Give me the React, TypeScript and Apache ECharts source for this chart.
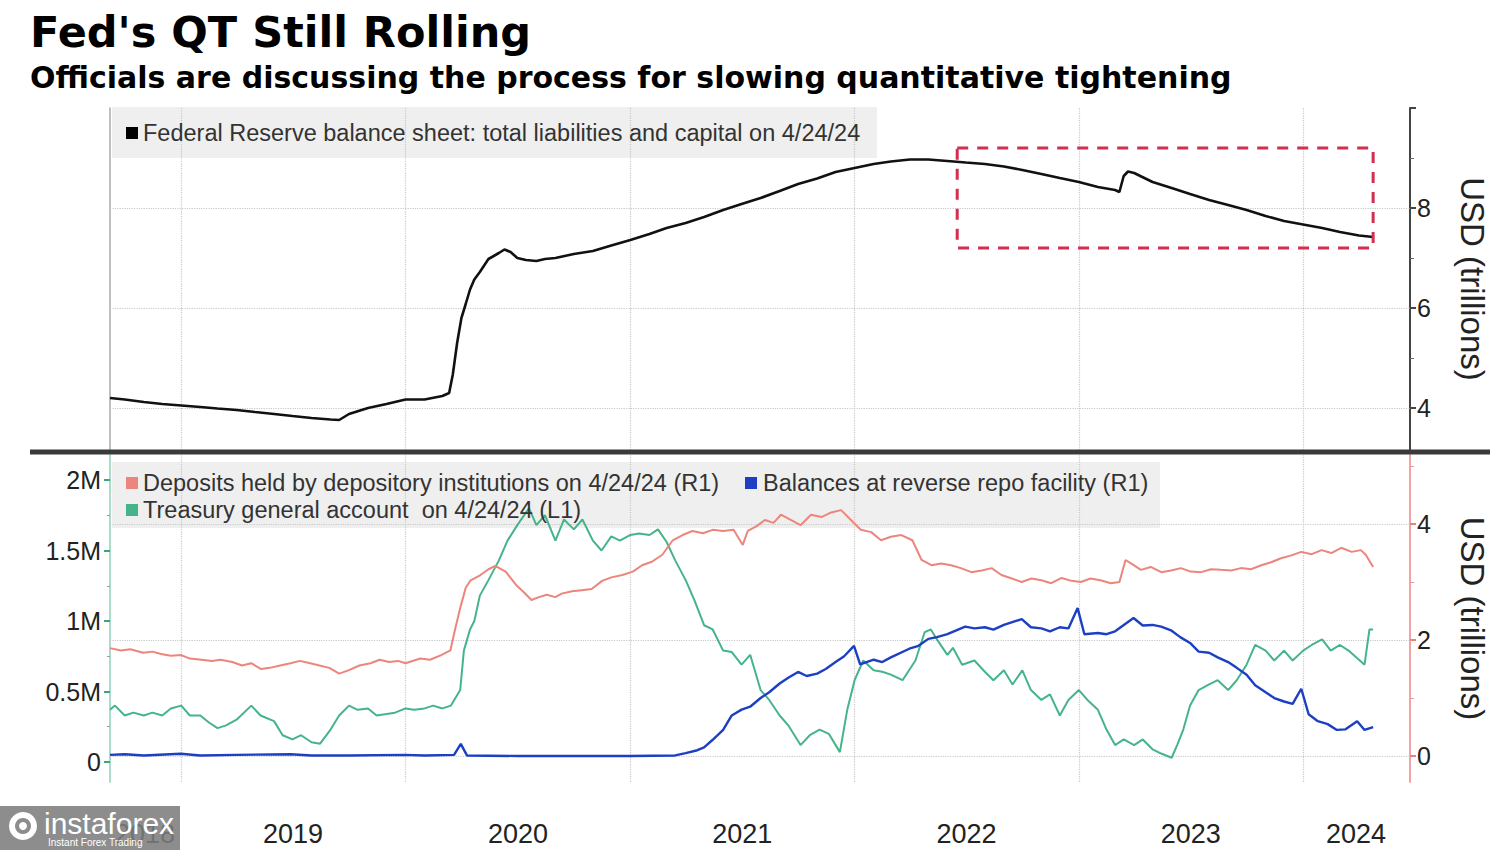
import React, { useEffect, useRef } from 'react';
import * as echarts from 'echarts';

// ---------- Data ----------
// Fed balance sheet: total liabilities and capital, USD trillions
const fedDates = [
  '2018-09-07','2018-10-01','2018-11-01','2018-12-01','2019-01-01','2019-02-01','2019-03-01','2019-04-01',
  '2019-05-01','2019-06-01','2019-07-01','2019-08-01','2019-09-01','2019-09-15','2019-10-01','2019-11-01',
  '2019-12-01','2020-01-01','2020-02-01','2020-03-01','2020-03-12','2020-03-18','2020-03-25','2020-04-01',
  '2020-04-08','2020-04-15','2020-04-22','2020-05-01','2020-05-15','2020-06-01','2020-06-10','2020-06-20',
  '2020-07-01','2020-07-15','2020-08-01','2020-08-15','2020-09-01','2020-10-01','2020-11-01','2020-12-01',
  '2021-01-01','2021-02-01','2021-03-01','2021-04-01','2021-05-01','2021-06-01','2021-07-01','2021-08-01',
  '2021-09-01','2021-10-01','2021-11-01','2021-12-01','2022-01-01','2022-02-01','2022-03-01','2022-04-01',
  '2022-05-01','2022-06-01','2022-07-01','2022-08-01','2022-09-01','2022-10-01','2022-11-01','2022-12-01',
  '2023-01-01','2023-02-01','2023-03-01','2023-03-08','2023-03-15','2023-03-22','2023-04-01','2023-05-01',
  '2023-06-01','2023-07-01','2023-08-01','2023-09-01','2023-10-01','2023-11-01','2023-12-01','2024-01-01',
  '2024-02-01','2024-03-01','2024-04-01','2024-04-24',
];
const fedValues = [
  4.20, 4.17, 4.12, 4.08, 4.05, 4.02, 3.99, 3.96,
  3.92, 3.88, 3.84, 3.80, 3.77, 3.76, 3.88, 4.00,
  4.08, 4.17, 4.17, 4.24, 4.30, 4.67, 5.30, 5.80,
  6.08, 6.37, 6.57, 6.72, 6.98, 7.10, 7.17, 7.12,
  7.00, 6.96, 6.94, 6.98, 7.00, 7.08, 7.14, 7.25,
  7.36, 7.48, 7.60, 7.70, 7.82, 7.96, 8.08, 8.20,
  8.34, 8.48, 8.59, 8.72, 8.80, 8.88, 8.93, 8.97,
  8.97, 8.94, 8.91, 8.88, 8.83, 8.76, 8.68, 8.60,
  8.52, 8.42, 8.36, 8.32, 8.64, 8.73, 8.70, 8.52,
  8.40, 8.28, 8.16, 8.06, 7.96, 7.84, 7.74, 7.67,
  7.60, 7.52, 7.45, 7.42,
];

// Deposits held by depository institutions, USD trillions (right axis)
const depDates = [
  '2018-09-07','2018-09-25','2018-10-10','2018-10-31','2018-11-15','2018-11-29','2018-12-15','2019-01-01',
  '2019-01-15','2019-02-03','2019-02-20','2019-03-06','2019-03-25','2019-04-10','2019-04-25','2019-05-11',
  '2019-05-25','2019-06-11','2019-06-28','2019-07-13','2019-07-30','2019-08-14','2019-08-30','2019-09-15',
  '2019-10-01','2019-10-18','2019-11-05','2019-11-20','2019-12-05','2019-12-20','2020-01-01','2020-01-25',
  '2020-02-10','2020-02-28','2020-03-14','2020-03-22','2020-03-30','2020-04-08','2020-04-16','2020-05-02',
  '2020-05-15','2020-05-26','2020-06-12','2020-06-29','2020-07-12','2020-07-24','2020-08-05','2020-08-18',
  '2020-09-01','2020-09-11','2020-09-28','2020-10-14','2020-10-30','2020-11-16','2020-12-01','2020-12-19',
  '2021-01-05','2021-01-20','2021-02-05','2021-02-22','2021-03-11','2021-03-27','2021-04-12','2021-04-29',
  '2021-05-15','2021-06-01','2021-06-18','2021-07-03','2021-07-11','2021-07-25','2021-08-08','2021-08-22',
  '2021-09-03','2021-09-19','2021-10-05','2021-10-22','2021-11-08','2021-11-24','2021-12-10','2021-12-26',
  '2022-01-11','2022-01-28','2022-02-13','2022-03-01','2022-03-18','2022-04-05','2022-04-20','2022-05-06',
  '2022-05-22','2022-06-07','2022-06-23','2022-07-10','2022-07-27','2022-08-12','2022-08-28','2022-09-14',
  '2022-09-30','2022-10-16','2022-11-01','2022-11-17','2022-12-04','2022-12-20','2023-01-04','2023-01-20',
  '2023-02-05','2023-02-22','2023-03-08','2023-03-18','2023-03-30','2023-04-12','2023-04-28','2023-05-15',
  '2023-05-31','2023-06-16','2023-07-02','2023-07-19','2023-08-04','2023-08-20','2023-09-06','2023-09-22',
  '2023-10-08','2023-10-25','2023-11-10','2023-11-26','2023-12-13','2023-12-29','2024-01-15','2024-01-31',
  '2024-02-16','2024-03-03','2024-03-20','2024-04-04','2024-04-12','2024-04-24',
];
const depValues = [
  1.86, 1.82, 1.84, 1.78, 1.80, 1.76, 1.73, 1.74,
  1.68, 1.66, 1.64, 1.66, 1.62, 1.56, 1.60, 1.50,
  1.52, 1.56, 1.60, 1.64, 1.60, 1.56, 1.52, 1.42,
  1.48, 1.56, 1.60, 1.66, 1.62, 1.64, 1.60, 1.68,
  1.66, 1.74, 1.82, 2.20, 2.55, 2.90, 3.03, 3.12,
  3.22, 3.28, 3.18, 2.95, 2.82, 2.69, 2.74, 2.78,
  2.74, 2.80, 2.84, 2.86, 2.88, 3.02, 3.08, 3.12,
  3.18, 3.29, 3.35, 3.47, 3.72, 3.81, 3.88, 3.84,
  3.90, 3.88, 3.90, 3.64, 3.88, 3.96, 4.07, 4.02,
  4.16, 4.07, 3.98, 4.16, 4.12, 4.20, 4.24, 4.07,
  3.90, 3.86, 3.72, 3.78, 3.81, 3.72, 3.38, 3.29,
  3.32, 3.29, 3.24, 3.17, 3.20, 3.24, 3.12, 3.06,
  3.00, 3.06, 3.03, 2.98, 3.07, 3.02, 3.00, 3.06,
  3.03, 2.98, 3.00, 3.38, 3.30, 3.21, 3.26, 3.17,
  3.20, 3.24, 3.18, 3.17, 3.22, 3.21, 3.20, 3.24,
  3.22, 3.29, 3.34, 3.41, 3.46, 3.52, 3.48, 3.55,
  3.50, 3.59, 3.52, 3.55, 3.47, 3.26,
];

// Balances at reverse repo facility, USD trillions (right axis)
const rrpDates = [
  '2018-09-07','2018-10-01','2018-11-01','2018-12-31','2019-02-01','2019-04-01','2019-06-28','2019-08-01',
  '2019-10-01','2019-12-31','2020-02-01','2020-03-20','2020-03-31','2020-04-10','2020-07-01','2020-10-01',
  '2021-01-01','2021-03-15','2021-04-01','2021-04-20','2021-05-01','2021-05-15','2021-06-01','2021-06-15',
  '2021-07-01','2021-07-15','2021-08-01','2021-08-15','2021-09-01','2021-09-15','2021-10-01','2021-10-15',
  '2021-11-01','2021-11-15','2021-12-01','2021-12-15','2021-12-31','2022-01-10','2022-02-01','2022-02-15',
  '2022-03-01','2022-03-31','2022-04-15','2022-05-01','2022-05-15','2022-06-01','2022-06-30','2022-07-15',
  '2022-08-01','2022-08-15','2022-09-01','2022-09-30','2022-10-15','2022-11-01','2022-11-15','2022-12-01',
  '2022-12-15','2022-12-30','2023-01-10','2023-02-01','2023-02-15','2023-03-01','2023-03-31','2023-04-15',
  '2023-05-01','2023-05-15','2023-06-01','2023-06-15','2023-07-01','2023-07-15','2023-08-01','2023-08-15',
  '2023-09-01','2023-09-15','2023-10-01','2023-10-15','2023-11-01','2023-11-15','2023-12-01','2023-12-15',
  '2023-12-29','2024-01-10','2024-01-25','2024-02-10','2024-02-25','2024-03-10','2024-03-29','2024-04-10',
  '2024-04-24',
];
const rrpValues = [
  0.02, 0.03, 0.01, 0.04, 0.01, 0.02, 0.03, 0.01,
  0.01, 0.02, 0.01, 0.02, 0.21, 0.01, 0.00, 0.00,
  0.00, 0.01, 0.05, 0.10, 0.15, 0.28, 0.45, 0.70,
  0.80, 0.85, 1.00, 1.10, 1.25, 1.35, 1.45, 1.38,
  1.42, 1.50, 1.62, 1.72, 1.90, 1.58, 1.66, 1.62,
  1.70, 1.85, 1.90, 2.02, 2.05, 2.10, 2.23, 2.20,
  2.22, 2.18, 2.26, 2.36, 2.22, 2.20, 2.15, 2.22,
  2.20, 2.55, 2.10, 2.12, 2.10, 2.15, 2.38, 2.25,
  2.26, 2.23, 2.16, 2.05, 1.95, 1.80, 1.78, 1.70,
  1.62, 1.52, 1.40, 1.22, 1.10, 1.00, 0.94, 0.90,
  1.16, 0.72, 0.60, 0.55, 0.45, 0.46, 0.60, 0.45,
  0.50,
];

// Treasury general account, USD millions (left axis)
const tgaDates = [
  '2018-09-07','2018-09-15','2018-10-01','2018-10-15','2018-11-01','2018-11-15','2018-12-01','2018-12-15',
  '2019-01-01','2019-01-15','2019-02-01','2019-02-15','2019-03-01','2019-03-15','2019-04-01','2019-04-25',
  '2019-05-10','2019-06-01','2019-06-15','2019-07-01','2019-07-15','2019-08-01','2019-08-15','2019-09-01',
  '2019-09-15','2019-10-01','2019-10-15','2019-11-01','2019-11-15','2019-12-01','2019-12-15','2020-01-01',
  '2020-01-15','2020-02-01','2020-02-15','2020-03-01','2020-03-15','2020-03-30','2020-04-05','2020-04-15',
  '2020-04-22','2020-05-01','2020-05-15','2020-06-01','2020-06-15','2020-07-01','2020-07-20','2020-08-01',
  '2020-08-15','2020-09-01','2020-09-15','2020-10-01','2020-10-15','2020-11-01','2020-11-15','2020-12-01',
  '2020-12-15','2021-01-01','2021-01-15','2021-02-01','2021-02-15','2021-03-01','2021-03-15','2021-04-01',
  '2021-04-15','2021-05-01','2021-05-15','2021-06-01','2021-06-15','2021-07-01','2021-07-15','2021-08-01',
  '2021-08-15','2021-09-01','2021-09-15','2021-10-05','2021-10-20','2021-11-05','2021-11-20','2021-12-08',
  '2021-12-20','2022-01-01','2022-01-15','2022-02-01','2022-02-15','2022-03-01','2022-03-20','2022-04-10',
  '2022-04-25','2022-05-05','2022-05-15','2022-06-01','2022-06-10','2022-06-25','2022-07-15','2022-08-01',
  '2022-08-15','2022-09-01','2022-09-15','2022-10-01','2022-10-15','2022-11-01','2022-11-15','2022-12-01',
  '2022-12-15','2023-01-01','2023-01-15','2023-02-01','2023-02-15','2023-03-01','2023-03-15','2023-04-01',
  '2023-04-15','2023-05-01','2023-05-15','2023-06-01','2023-06-10','2023-06-20','2023-07-01','2023-07-15',
  '2023-08-01','2023-08-15','2023-09-01','2023-09-15','2023-10-01','2023-10-15','2023-11-01','2023-11-15',
  '2023-12-01','2023-12-15','2024-01-01','2024-01-15','2024-02-01','2024-02-15','2024-03-01','2024-03-15',
  '2024-04-10','2024-04-18','2024-04-24',
];
const tgaValues = [
  370000, 400000, 330000, 350000, 330000, 350000, 330000, 380000,
  400000, 330000, 330000, 280000, 240000, 260000, 300000, 400000,
  330000, 290000, 190000, 160000, 190000, 140000, 130000, 230000,
  330000, 400000, 370000, 380000, 330000, 340000, 350000, 380000,
  370000, 380000, 400000, 380000, 400000, 510000, 790000, 940000,
  1000000, 1180000, 1290000, 1430000, 1570000, 1680000, 1800000, 1680000,
  1750000, 1570000, 1720000, 1650000, 1720000, 1570000, 1500000, 1600000,
  1570000, 1610000, 1620000, 1610000, 1650000, 1560000, 1430000, 1290000,
  1150000, 970000, 940000, 790000, 780000, 690000, 760000, 510000,
  440000, 330000, 260000, 120000, 190000, 230000, 200000, 70000,
  370000, 580000, 720000, 650000, 640000, 620000, 580000, 720000,
  920000, 940000, 870000, 760000, 810000, 690000, 720000, 640000,
  580000, 650000, 550000, 650000, 510000, 440000, 480000, 330000,
  440000, 510000, 440000, 370000, 230000, 120000, 160000, 120000,
  160000, 90000, 60000, 30000, 120000, 230000, 400000, 510000,
  550000, 580000, 510000, 580000, 690000, 830000, 790000, 720000,
  790000, 720000, 790000, 830000, 870000, 790000, 830000, 790000,
  690000, 940000, 940000,
];

// Axis ticks / labels
const yearStarts = ['2019-01-01', '2020-01-01', '2021-01-01', '2022-01-01', '2023-01-01', '2024-01-01'];
const yearLabelDates = ['2018-11-03', '2019-07-02', '2020-07-02', '2021-07-02', '2022-07-02', '2023-07-02', '2024-03-27'];
const topMajorTicks = [4, 6, 8, 10];
const topLabels = [4, 6, 8];
const topMinorTicks = [5, 7, 9];
const leftTicks = [0, 500000, 1000000, 1500000, 2000000];
const leftMinorTicks = [250000, 750000, 1250000, 1750000];
const rightTicks = [0, 2, 4];
const rightMinorTicks = [1, 3, 5];

// QT highlight box (data coordinates)
const qtBoxStart = '2022-06-17';
const qtBoxEnd = '2024-04-24';
const qtBoxTop = 9.2;
const qtBoxBottom = 7.2;

// ---------- helpers ----------
const ts = (s: string) => {
  const [y, m, d] = s.split('-').map(Number);
  return Date.UTC(y, m - 1, d);
};
const zip = (d: string[], v: number[]) => d.map((x, i) => [ts(x), v[i]]);

const FONT = "'Liberation Sans', Arial, sans-serif";
const TITLE_FONT = "'DejaVu Sans', Verdana, sans-serif";

const X_MIN = ts('2018-09-07');
const X_MAX = ts('2024-06-23');

const gridLineStyle = { color: '#c8c8c8', type: 'dotted', width: 1.2 };
const gridMarks = (hValues: number[]) => ({
  silent: true,
  symbol: ['none', 'none'],
  z: 1,
  label: { show: false },
  emphasis: { disabled: true },
  lineStyle: gridLineStyle,
  data: [...hValues.map((v) => ({ yAxis: v })), ...yearStarts.map((d) => ({ xAxis: ts(d) }))],
});

const legendText = (text: string, x: number, y: number) => ({
  type: 'text',
  x,
  y,
  z: 20,
  style: {
    text,
    font: `23.5px ${FONT}`,
    fill: '#333',
    align: 'left',
    verticalAlign: 'middle',
  },
});
const legendSquare = (x: number, y: number, color: string) => ({
  type: 'rect',
  z: 20,
  shape: { x, y: y - 6, width: 12, height: 12 },
  style: { fill: color },
});

const BLACK = '#111111';
const RED = '#ec857d';
const BLUE = '#1c3fc4';
const GREEN = '#45b48b';

export default function App() {
  const ref = useRef<HTMLDivElement>(null);

  useEffect(() => {
    document.body.style.margin = '0';
    const chart = echarts.init(ref.current!, null, { renderer: 'svg' });

    const topMin = 3.16;
    const topMax = 10;
    const leftMin = -141844;
    const leftMax = 2177305;
    const rightMin = -0.448;
    const rightMax = 5.19;

    const option: any = {
      animation: false,
      backgroundColor: '#ffffff',
      grid: [
        { left: 110, right: 90, top: 108, height: 342 },
        { left: 110, right: 90, top: 455, height: 327 },
      ],
      xAxis: [
        { type: 'value', gridIndex: 0, min: X_MIN, max: X_MAX, show: false, splitLine: { show: false } },
        {
          type: 'value',
          gridIndex: 1,
          min: X_MIN,
          max: X_MAX,
          axisLine: { show: false },
          axisTick: { show: false },
          splitLine: { show: false },
          axisLabel: {
            customValues: yearLabelDates.map(ts),
            formatter: (v: number) => String(new Date(v).getUTCFullYear()),
            fontSize: 27,
            fontFamily: FONT,
            color: '#222',
            margin: 38,
            hideOverlap: false,
          },
        },
      ],
      yAxis: [
        {
          type: 'value', gridIndex: 0, position: 'right', min: topMin, max: topMax,
          axisLine: { show: true, lineStyle: { color: '#444', width: 2 } },
          axisTick: { show: true, customValues: topMajorTicks, length: 6, lineStyle: { color: '#444', width: 2 } },
          axisLabel: { customValues: topLabels, fontSize: 25, fontFamily: FONT, color: '#222', margin: 7 },
          splitLine: { show: false },
          name: 'USD (trillions)', nameLocation: 'middle', nameRotate: -90, nameGap: 46,
          nameTextStyle: { fontSize: 33, fontFamily: FONT, color: '#222' },
        },
        {
          type: 'value', gridIndex: 0, position: 'right', min: topMin, max: topMax,
          axisLine: { show: false },
          axisTick: { show: true, customValues: topMinorTicks, length: 4, lineStyle: { color: '#666', width: 1 } },
          axisLabel: { show: false }, splitLine: { show: false },
        },
        {
          type: 'value', gridIndex: 0, position: 'left', min: topMin, max: topMax,
          axisLine: { show: true, lineStyle: { color: '#aaa', width: 1.5 } },
          axisTick: { show: false }, axisLabel: { show: false }, splitLine: { show: false },
        },
        {
          type: 'value', gridIndex: 1, position: 'left', min: leftMin, max: leftMax,
          axisLine: { show: true, lineStyle: { color: '#aadccb', width: 2 } },
          axisTick: { show: true, customValues: leftTicks, length: 6, lineStyle: { color: '#3aa57f', width: 2 } },
          axisLabel: {
            customValues: leftTicks, fontSize: 25, fontFamily: FONT, color: '#222', margin: 9,
            formatter: (v: number) => (v === 0 ? '0' : `${v / 1000000}M`),
          },
          splitLine: { show: false },
        },
        {
          type: 'value', gridIndex: 1, position: 'left', min: leftMin, max: leftMax,
          axisLine: { show: false },
          axisTick: { show: true, customValues: leftMinorTicks, length: 3, lineStyle: { color: '#999', width: 1 } },
          axisLabel: { show: false }, splitLine: { show: false },
        },
        {
          type: 'value', gridIndex: 1, position: 'right', min: rightMin, max: rightMax,
          axisLine: { show: true, lineStyle: { color: '#f2a3a3', width: 2 } },
          axisTick: { show: true, customValues: rightTicks, length: 6, lineStyle: { color: '#ec7f7f', width: 2 } },
          axisLabel: { customValues: rightTicks, fontSize: 25, fontFamily: FONT, color: '#222', margin: 7 },
          splitLine: { show: false },
          name: 'USD (trillions)', nameLocation: 'middle', nameRotate: -90, nameGap: 46,
          nameTextStyle: { fontSize: 33, fontFamily: FONT, color: '#222' },
        },
        {
          type: 'value', gridIndex: 1, position: 'right', min: rightMin, max: rightMax,
          axisLine: { show: false },
          axisTick: { show: true, customValues: rightMinorTicks, length: 4, lineStyle: { color: '#ee9a9a', width: 1 } },
          axisLabel: { show: false }, splitLine: { show: false },
        },
      ],
      series: [
        {
          name: 'Federal Reserve balance sheet: total liabilities and capital on 4/24/24',
          type: 'line', xAxisIndex: 0, yAxisIndex: 0,
          data: zip(fedDates, fedValues),
          showSymbol: false, symbol: 'none', z: 3,
          lineStyle: { color: BLACK, width: 2.6 }, itemStyle: { color: BLACK },
          emphasis: { disabled: true },
          markLine: gridMarks([4, 6, 8]),
          markArea: {
            silent: true,
            z: 4,
            itemStyle: {
              color: 'rgba(0,0,0,0)',
              borderColor: '#d22e4f',
              borderWidth: 3,
              borderType: [11, 9],
            },
            label: { show: false },
            data: [[{ xAxis: ts(qtBoxStart), yAxis: qtBoxTop }, { xAxis: ts(qtBoxEnd), yAxis: qtBoxBottom }]],
          },
        },
        {
          name: 'Treasury general account  on 4/24/24 (L1)',
          type: 'line', xAxisIndex: 1, yAxisIndex: 3,
          data: zip(tgaDates, tgaValues),
          showSymbol: false, symbol: 'none', z: 3,
          lineStyle: { color: GREEN, width: 2 }, itemStyle: { color: GREEN },
          emphasis: { disabled: true },
        },
        {
          name: 'Deposits held by depository institutions on 4/24/24 (R1)',
          type: 'line', xAxisIndex: 1, yAxisIndex: 5,
          data: zip(depDates, depValues),
          showSymbol: false, symbol: 'none', z: 3,
          lineStyle: { color: RED, width: 2 }, itemStyle: { color: RED },
          emphasis: { disabled: true },
          markLine: gridMarks([0, 2, 4]),
        },
        {
          name: 'Balances at reverse repo facility (R1)',
          type: 'line', xAxisIndex: 1, yAxisIndex: 5,
          data: zip(rrpDates, rrpValues),
          showSymbol: false, symbol: 'none', z: 4,
          lineStyle: { color: BLUE, width: 2.4 }, itemStyle: { color: BLUE },
          emphasis: { disabled: true },
        },
      ],
      graphic: [
        {
          type: 'text', x: 30, y: 32, z: 20,
          style: { text: "Fed's QT Still Rolling", font: `bold 43px ${TITLE_FONT}`, fill: '#000', align: 'left', verticalAlign: 'middle' },
        },
        {
          type: 'text', x: 30, y: 77, z: 20,
          style: {
            text: 'Officials are discussing the process for slowing quantitative tightening',
            font: `bold 30px ${TITLE_FONT}`, fill: '#000', align: 'left', verticalAlign: 'middle',
          },
        },
        // top legend
        { type: 'rect', z: 0, shape: { x: 112, y: 107, width: 765, height: 51 }, style: { fill: 'rgba(236,236,236,0.85)' } },
        legendSquare(126, 133, '#000'),
        legendText('Federal Reserve balance sheet: total liabilities and capital on 4/24/24', 143, 133),
        // bottom legend
        { type: 'rect', z: 0, shape: { x: 112, y: 462, width: 1048, height: 66 }, style: { fill: 'rgba(236,236,236,0.85)' } },
        legendSquare(126, 483, RED),
        legendText('Deposits held by depository institutions on 4/24/24 (R1)', 143, 483),
        legendSquare(745, 483, BLUE),
        legendText('Balances at reverse repo facility (R1)', 763, 483),
        legendSquare(126, 510, GREEN),
        legendText('Treasury general account  on 4/24/24 (L1)', 143, 510),
        // panel separator
        {
          type: 'line', z: 30,
          shape: { x1: 30, y1: 452, x2: 1490, y2: 452 },
          style: { stroke: '#3a3a3a', lineWidth: 5 },
        },
        // watermark
        {
          type: 'group', z: 100,
          children: [
            { type: 'rect', z: 100, shape: { x: 0, y: 806, width: 180, height: 44 }, style: { fill: 'rgba(125,125,125,0.88)' } },
            { type: 'ring', z: 101, shape: { cx: 23, cy: 826, r: 14, r0: 8 }, style: { fill: '#fff' } },
            { type: 'circle', z: 101, shape: { cx: 23, cy: 826, r: 4 }, style: { fill: '#fff' } },
            {
              type: 'text', x: 44, y: 823, z: 101,
              style: { text: 'instaforex', font: `30px ${FONT}`, fill: '#fff', align: 'left', verticalAlign: 'middle' },
            },
            {
              type: 'text', x: 48, y: 842, z: 101,
              style: { text: 'Instant Forex Trading', font: `10px ${FONT}`, fill: '#fff', align: 'left', verticalAlign: 'middle' },
            },
          ],
        },
      ],
    };

    chart.setOption(option);
    return () => chart.dispose();
  }, []);

  return (
    <div
      ref={ref}
      style={{ position: 'absolute', left: 0, top: 0, width: 1500, height: 850, background: '#fff' }}
    />
  );
}
